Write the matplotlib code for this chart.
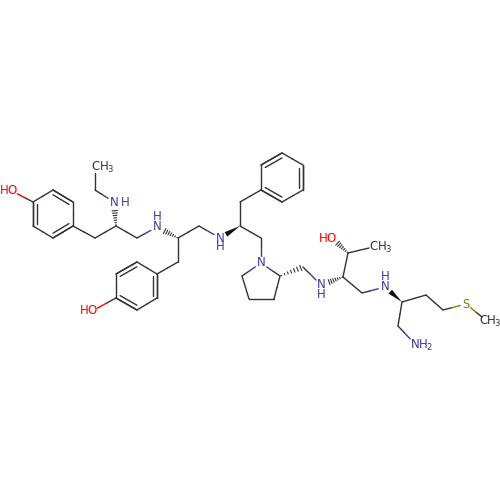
import numpy as np
import matplotlib
matplotlib.use("Agg")
import matplotlib.pyplot as plt

BOND = "#333333"
BLUE = "#3a3a9e"
RED = "#ff0000"
OLIVE = "#808000"

# atom positions
atom_names = ["a1", "a2", "a3", "a4", "a5", "a6", "O1", "c1", "c2", "c3", "N1", "c4", "c5",
              "N2", "c6", "c7", "b1", "b2", "b3", "b4", "b5", "b6", "O2", "c8", "N3", "c9",
              "c10", "c11", "p1", "p2", "p3", "p4", "p5", "p6", "c12", "N4", "q2", "q3", "q4",
              "q5", "c13", "N5", "c14", "c15", "O3", "c16", "c17", "N6", "c18", "c19", "c20",
              "S1", "c21", "c22", "N7"]
atom_x = [33, 53, 73, 73, 53, 33, 12, 95, 116, 137, 114, 95, 95,
          157, 178, 178, 157, 157, 137, 116, 116, 137, 92, 199, 220, 240,
          240, 261, 261, 261, 282, 303, 303, 282, 261, 261, 280, 274, 249,
          242, 303, 321, 343, 348, 332, 369, 362, 385, 402, 426, 443,
          466, 482, 398, 415]
atom_y = [202, 190, 202, 226, 238, 226, 191, 238, 226, 238, 202, 190, 173,
          227, 238, 262, 274, 298, 310, 298, 274, 262, 311, 226, 238, 226,
          202, 238, 190, 165, 153, 165, 190, 202, 263, 263, 276, 299, 299,
          276, 267, 285, 277, 253, 238, 248, 293, 287, 302, 295, 310,
          304, 317, 326, 344]

single_bonds = [("a1", "O1"), ("a1", "a2"), ("a2", "a3"), ("a3", "a4"), ("a4", "a5"), ("a5", "a6"),
                ("a6", "a1"), ("a4", "c1"), ("c1", "c2"), ("c2", "c3"), ("c3", "N2"), ("N1", "c4"),
                ("c4", "c5"), ("c6", "c7"), ("c7", "b1"), ("b1", "b2"), ("b2", "b3"), ("b3", "b4"),
                ("b4", "b5"), ("b5", "b6"), ("b6", "b1"), ("b4", "O2"), ("c6", "c8"), ("c8", "N3"),
                ("c9", "c10"), ("c10", "p1"), ("p1", "p2"), ("p2", "p3"), ("p3", "p4"), ("p4", "p5"),
                ("p5", "p6"), ("p6", "p1"), ("c9", "c11"), ("c11", "N4"), ("N4", "q2"), ("q2", "q3"),
                ("q3", "q4"), ("q4", "q5"), ("q5", "N4"), ("c12", "c12"), ("c13", "N5"), ("c14", "c15"),
                ("c15", "c16"), ("c14", "c17"), ("c17", "N6"), ("c18", "c19"), ("c19", "c20"),
                ("c20", "S1"), ("S1", "c21"), ("c18", "c22"), ("c22", "N7")]
# (atom, atom, ring centre atoms)
double_bonds = [("a2", "a3", ("a1", "a4")), ("a4", "a5", ("a1", "a4")), ("a6", "a1", ("a1", "a4")),
                ("b1", "b2", ("b1", "b4")), ("b3", "b4", ("b1", "b4")), ("b5", "b6", ("b1", "b4")),
                ("p2", "p3", ("p1", "p4")), ("p4", "p5", ("p1", "p4")), ("p6", "p1", ("p1", "p4"))]
wedge_bonds = [("c9", "N3"), ("c18", "N6")]
hash_bonds = [("c2", "N1"), ("c6", "N2"), ("q2", "c13"), ("c14", "N5"), ("c15", "O3")]

atom_colors = {"N1": BLUE, "N2": BLUE, "N3": BLUE, "N4": BLUE, "N5": BLUE, "N6": BLUE, "N7": BLUE,
               "O1": RED, "O2": RED, "O3": RED, "S1": OLIVE}
atom_gaps = {"N1": 7, "N2": 7, "N3": 7, "N4": 7, "N5": 7, "N6": 7, "N7": 7,
             "O1": 6, "O2": 6, "O3": 6, "S1": 6, "c5": 0}

label_text = ["H", "O", "C", "H", "3", "N", "H", "H", "N", "H", "O", "N", "H", "N",
              "N", "H", "H", "O", "C", "H", "3", "H", "N", "S", "C", "H", "3", "N", "H", "2"]
label_x = [4, 12, 96, 104, 110, 114, 125, 157, 157, 84, 92, 220, 220, 261,
           321, 321, 323, 331, 374, 382, 388, 385, 385, 466, 483, 491, 497, 415, 423, 429]
label_y = [191, 191, 167, 167, 170, 202, 202, 217, 227, 311, 311, 238, 247, 263,
           285, 295, 238, 238, 247, 247, 250, 277, 287, 304, 320, 320, 323, 344, 344, 347]
label_color = [RED, RED, BOND, BOND, BOND, BLUE, BLUE, BLUE, BLUE, RED, RED, BLUE, BLUE, BLUE,
               BLUE, BLUE, RED, RED, BOND, BOND, BOND, BLUE, BLUE, OLIVE, BOND, BOND, BOND, BLUE, BLUE, BLUE]
label_small = ["3", "2"]

pos = {n: np.array([x, y], dtype=float) for n, x, y in zip(atom_names, atom_x, atom_y)}


def trimmed(a, b):
    p, q = pos[a], pos[b]
    d = (q - p) / np.linalg.norm(q - p)
    return p + d * atom_gaps.get(a, 0), q - d * atom_gaps.get(b, 0)


fig = plt.figure(figsize=(5, 5), dpi=100)
ax = fig.add_axes([0, 0, 1, 1])
ax.set_xlim(0, 500)
ax.set_ylim(500, 0)
ax.axis("off")

for a, b in single_bonds:
    if a == b:
        continue
    p, q = trimmed(a, b)
    m = (p + q) / 2
    ax.plot([p[0], m[0]], [p[1], m[1]], color=atom_colors.get(a, BOND), lw=1.0, solid_capstyle="round")
    ax.plot([m[0], q[0]], [m[1], q[1]], color=atom_colors.get(b, BOND), lw=1.0, solid_capstyle="round")

for a, b, ring in double_bonds:
    p, q = pos[a], pos[b]
    ax.plot([p[0], q[0]], [p[1], q[1]], color=BOND, lw=1.0, solid_capstyle="round")
    centre = (pos[ring[0]] + pos[ring[1]]) / 2
    # inner line pulled towards the middle of the ring
    ip = p + (centre - p) * 0.2
    iq = q + (centre - q) * 0.2
    ax.plot([ip[0], iq[0]], [ip[1], iq[1]], color=BOND, lw=1.0, solid_capstyle="round")

for a, b in wedge_bonds:
    p, q = trimmed(a, b)
    d = (q - p) / np.linalg.norm(q - p)
    n = np.array([-d[1], d[0]])
    tri = np.array([p, q + n * 2.6, q - n * 2.6])
    ax.fill(tri[:, 0], tri[:, 1], color="#111111", lw=0)

for a, b in hash_bonds:
    p, q = trimmed(a, b)
    d = (q - p) / np.linalg.norm(q - p)
    n = np.array([-d[1], d[0]])
    for t in [0.06, 0.2, 0.34, 0.48, 0.62, 0.76, 0.9]:
        c = p + (q - p) * t
        w = 2.8 * t
        ax.plot([c[0] - n[0] * w, c[0] + n[0] * w], [c[1] - n[1] * w, c[1] + n[1] * w],
                color=BOND, lw=0.8)

for s, x, y, c in zip(label_text, label_x, label_y, label_color):
    ax.text(x, y, s, color=c, ha="center", va="center", family="DejaVu Sans",
            fontsize=6 if s in label_small else 8.5)

fig.savefig("out.png", dpi=100)
